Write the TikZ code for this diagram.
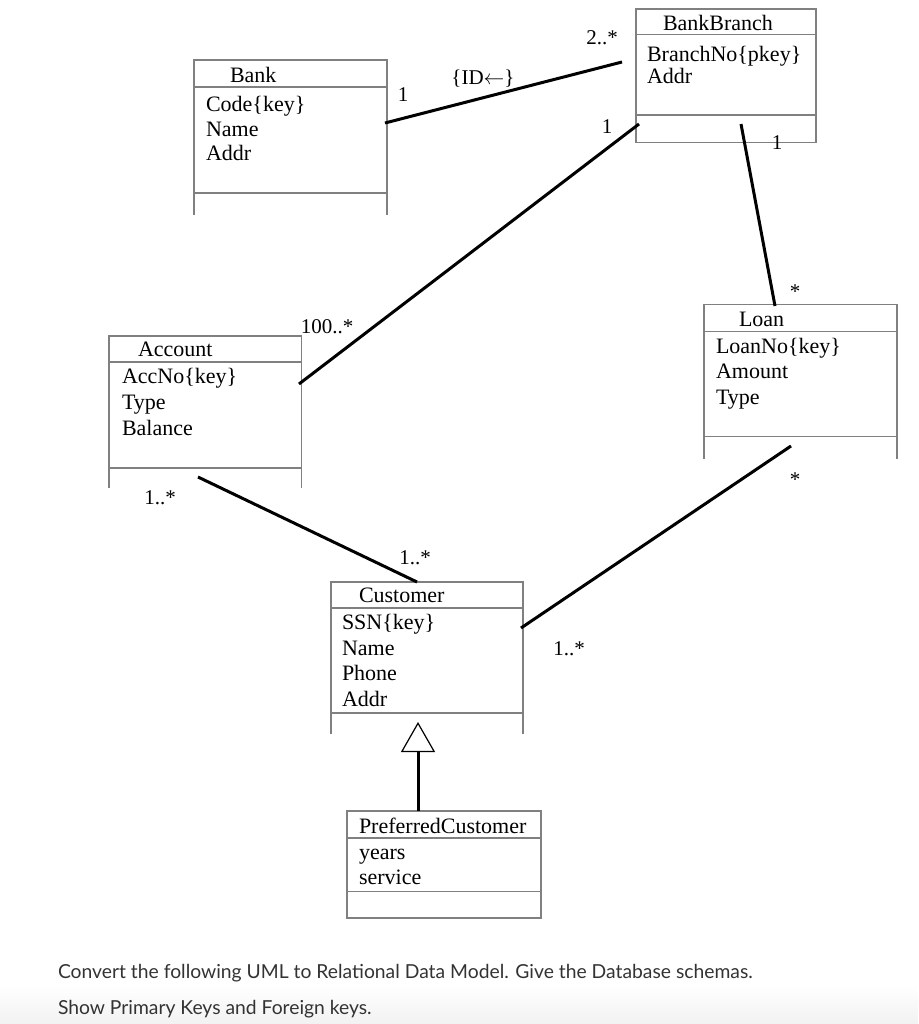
\documentclass[tikz,border=0pt]{standalone}
\usepackage{fontspec}
\setmainfont{Liberation Serif}
\newfontfamily\askfont{Lato}
\usetikzlibrary{arrows.meta,positioning,calc}
\definecolor{ink}{HTML}{000000}
\definecolor{frame}{HTML}{808080}
\definecolor{asktext}{HTML}{333333}
\definecolor{fade}{HTML}{F2F2F2}
\tikzset{
  base/.style={inner sep=0pt, outer sep=0pt, text=ink},
  box/.style={base, draw=frame, line width=1.3pt, anchor=north west},
  hole/.style={base, anchor=north west},
  side/.style={draw=frame, line width=1.3pt},
  ttl/.style={base, font=\fontsize{22}{25}\selectfont, anchor=base west},
  % multi-line nodes sit on their last baseline
  att/.style={base, font=\fontsize{22}{#1}\selectfont, align=left, anchor=base west},
  att/.default=25.5,
  mult/.style={base, font=\fontsize{21}{24}\selectfont},
  assoc/.style={draw=ink, line width=3pt},
  gen/.style={draw=ink, line width=3pt, -{Triangle[open, length=30pt, width=34pt, line width=1.2pt]}},
  ask/.style={base, font=\askfont\fontsize{19.3}{23}\selectfont, text=asktext, anchor=base west},
}
\begin{document}
\begin{tikzpicture}[x=1pt, y=-1pt]
  \useasboundingbox (0,0) rectangle (918,1024);
  \shade[top color=white, bottom color=fade] (0,985) rectangle (918,1024);
  % Bank
  \node[box, minimum width=193pt, minimum height=27pt] (bank) at (194,60) {};
  \node[box, minimum width=193pt, minimum height=106pt, below=0pt of bank] (bank-att) {};
  \node[hole, minimum width=193pt, minimum height=22pt, below=0pt of bank-att] (bank-ops) {};
  \draw[side] (bank-ops.north west) -- (bank-ops.south west) (bank-ops.north east) -- (bank-ops.south east);
  \node[ttl] (bank-name) at ($(bank.south west)+(36,-4.5)$) {Bank};
  \node[att=24.5] (bank-list) at ($(bank-att.north west)+(12,73.7)$) {Code\{key\}\\Name\\Addr};
  % BankBranch
  \node[box, minimum width=180pt, minimum height=25.5pt] (branch) at (636,9) {};
  \node[box, minimum width=180pt, minimum height=80.5pt, below=0pt of branch] (branch-att) {};
  \node[box, minimum width=180pt, minimum height=27.5pt, below=0pt of branch-att] (branch-ops) {};
  \node[ttl] (branch-name) at ($(branch.south west)+(27,-4)$) {BankBranch};
  \node[att=22.5] (branch-list) at ($(branch-att.north west)+(11,49.5)$) {BranchNo\{pkey\}\\Addr};
  % Account
  \node[box, minimum width=192.5pt, minimum height=26pt] (acct) at (109,336) {};
  \node[box, minimum width=192.5pt, minimum height=106pt, below=0pt of acct] (acct-att) {};
  \node[hole, minimum width=192.5pt, minimum height=20pt, below=0pt of acct-att] (acct-ops) {};
  \draw[side] (acct-ops.north west) -- (acct-ops.south west) (acct-ops.north east) -- (acct-ops.south east);
  \node[ttl] (acct-name) at ($(acct.south west)+(29,-5.5)$) {Account};
  \node[att=25.8] (acct-list) at ($(acct-att.north west)+(13,73)$) {AccNo\{key\}\\Type\\Balance};
  % Loan
  \node[box, minimum width=193pt, minimum height=27pt] (loan) at (704,304.5) {};
  \node[box, minimum width=193pt, minimum height=105pt, below=0pt of loan] (loan-att) {};
  \node[hole, minimum width=193pt, minimum height=22.5pt, below=0pt of loan-att] (loan-ops) {};
  \draw[side] (loan-ops.north west) -- (loan-ops.south west) (loan-ops.north east) -- (loan-ops.south east);
  \node[ttl] (loan-name) at ($(loan.south west)+(35,-5)$) {Loan};
  \node[att=25.4] (loan-list) at ($(loan-att.north west)+(12,72.5)$) {LoanNo\{key\}\\Amount\\Type};
  % Customer
  \node[box, minimum width=192pt, minimum height=26pt] (cust) at (331,582) {};
  \node[box, minimum width=192pt, minimum height=105pt, below=0pt of cust] (cust-att) {};
  \node[hole, minimum width=192pt, minimum height=21pt, below=0pt of cust-att] (cust-ops) {};
  \draw[side] (cust-ops.north west) -- (cust-ops.south west) (cust-ops.north east) -- (cust-ops.south east);
  \node[ttl] (cust-name) at ($(cust.south west)+(28,-5.5)$) {Customer};
  \node[att=25.8] (cust-list) at ($(cust-att.north west)+(11,98.7)$) {SSN\{key\}\\Name\\Phone\\Addr};
  % PreferredCustomer
  \node[box, minimum width=194pt, minimum height=27pt] (pref) at (347,811) {};
  \node[box, minimum width=194pt, minimum height=53.5pt, below=0pt of pref] (pref-att) {};
  \node[box, minimum width=194pt, minimum height=26.5pt, below=0pt of pref-att] (pref-ops) {};
  \node[ttl] (pref-name) at ($(pref.south west)+(12,-5)$) {PreferredCustomer};
  \node[att=25] (pref-list) at ($(pref-att.north west)+(12,46)$) {years\\service};
  % connector ends
  \coordinate (bank-r) at (385,123);
  \coordinate (branch-l) at (622,62);
  \coordinate (branch-sw) at (639,124);
  \coordinate (acct-r) at (299,384);
  \coordinate (branch-s) at (741,124);
  \coordinate (loan-n) at (775,306);
  \coordinate (acct-s) at (198,477);
  \coordinate (cust-n) at (417,582);
  \coordinate (loan-s) at (791,446);
  \coordinate (cust-r) at (521,628);
  \coordinate (pref-n) at (418,811);
  \coordinate (cust-tip) at (418,722);
  \draw[assoc] (bank-r) -- (branch-l);
  \draw[assoc] (branch-sw) -- (acct-r);
  \draw[assoc] (branch-s) -- (loan-n);
  \draw[assoc] (acct-s) -- (cust-n);
  \draw[assoc] (loan-s) -- (cust-r);
  \draw[gen] (pref-n) -- (cust-tip);
  % multiplicities
  \node[mult] (m-bank) at (403,95) {1};
  \node[mult] (m-id) at (483,79) {\{ID$\leftarrow$\}};
  \node[mult] (m-branch) at (602,38) {2..*};
  \node[mult] (m-branch-a) at (607,127) {1};
  \node[mult] (m-acct-b) at (327,327) {100..*};
  \node[mult] (m-branch-l) at (777,143) {1};
  \node[mult] (m-loan-b) at (795,292) {*};
  \node[mult] (m-acct-c) at (160,498) {1..*};
  \node[mult] (m-cust-a) at (415,558) {1..*};
  \node[mult] (m-loan-c) at (795,480) {*};
  \node[mult] (m-cust-l) at (569,649) {1..*};
  % question
  \node[ask] (ask-a) at (58,978) {Convert the following UML to Relational Data Model. Give the Database schemas.};
  \node[ask] (ask-b) at (58,1014) {Show Primary Keys and Foreign keys.};
\end{tikzpicture}
\end{document}
